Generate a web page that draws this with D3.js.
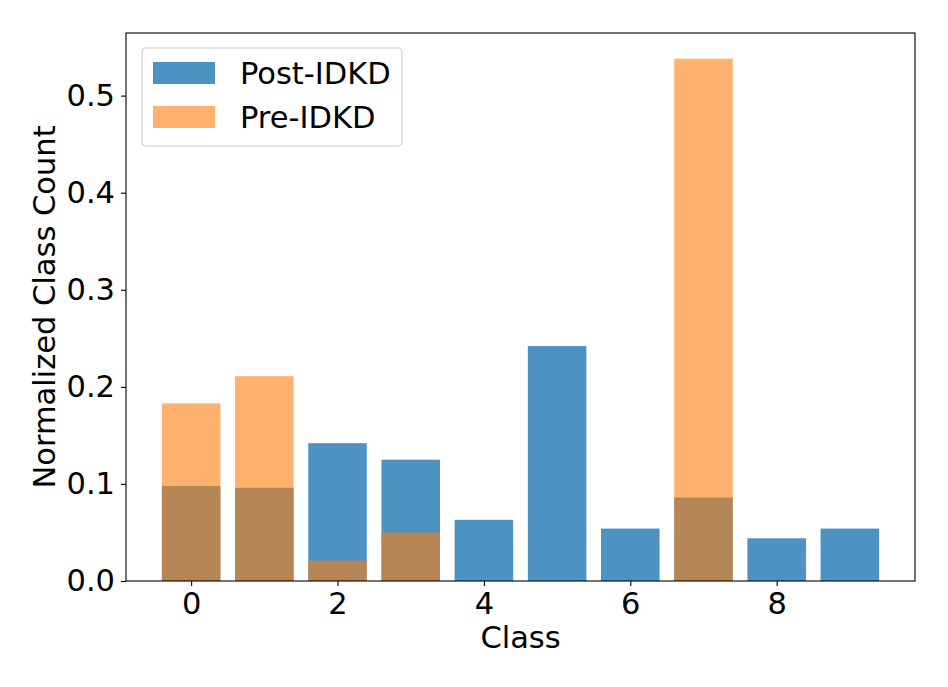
<html>
<script src="https://cdn.jsdelivr.net/npm/d3@7"></script>
<style>
  body { margin: 0; background: #fff; }
  text { font-family: "DejaVu Sans", sans-serif; fill: #000; }
</style>
<body>
<div id="chart"></div>
<script>
// values
var classes = [0, 1, 2, 3, 4, 5, 6, 7, 8, 9];
var postIDKD = [0.098, 0.096, 0.142, 0.125, 0.063, 0.242, 0.054, 0.086, 0.044, 0.054];
var preIDKD  = [0.183, 0.211, 0.021, 0.050, 0, 0, 0, 0.538, 0, 0];
var seriesNames = ["Post-IDKD", "Pre-IDKD"];
var xTicks = [0, 2, 4, 6, 8];
var yTicks = [0.0, 0.1, 0.2, 0.3, 0.4, 0.5];

var W = 948, H = 687;
var margin = { top: 33, right: 33, bottom: 106, left: 126 };
var width = W - margin.left - margin.right,
    height = H - margin.top - margin.bottom;
var fs = "30.5px";

var svg = d3.select("#chart").append("svg")
  .attr("width", W).attr("height", H);

var g = svg.append("g")
  .attr("transform", "translate(" + margin.left + "," + margin.top + ")");

var x = d3.scaleLinear().domain([-0.89, 9.89]).range([0, width]);
var y = d3.scaleLinear().domain([0, 0.5645]).range([height, 0]);

var barW = x(0.8) - x(0);

// Post-IDKD first, Pre-IDKD drawn over it
g.selectAll(".post").data(classes).enter().append("rect")
  .attr("class", "post")
  .attr("x", d => x(d - 0.4))
  .attr("y", (d, i) => y(postIDKD[i]))
  .attr("width", barW)
  .attr("height", (d, i) => y(0) - y(postIDKD[i]))
  .style("fill", "#1f77b4").style("fill-opacity", 0.8);

g.selectAll(".pre").data(classes).enter().append("rect")
  .attr("class", "pre")
  .attr("x", d => x(d - 0.4))
  .attr("y", (d, i) => y(preIDKD[i]))
  .attr("width", barW)
  .attr("height", (d, i) => y(0) - y(preIDKD[i]))
  .style("fill", "#ff7f0e").style("fill-opacity", 0.6);

// frame
g.append("rect")
  .attr("width", width).attr("height", height)
  .style("fill", "none").style("stroke", "#000").style("stroke-width", 1.1);

var xaxis = d3.axisBottom(x).tickValues(xTicks).tickFormat(d3.format("d"))
  .tickSize(5).tickSizeOuter(0).tickPadding(6);
var yaxis = d3.axisLeft(y).tickValues(yTicks).tickFormat(d3.format(".1f"))
  .tickSize(5).tickSizeOuter(0).tickPadding(6);

var gx = g.append("g").attr("transform", "translate(0," + height + ")").call(xaxis);
var gy = g.append("g").call(yaxis);
[gx, gy].forEach(function(a) {
  a.select(".domain").remove();
  a.selectAll("line").style("stroke", "#000").style("stroke-width", 1.1);
  a.selectAll("text").style("font-family", "DejaVu Sans").style("font-size", fs).style("fill", "#000");
});

svg.append("text")
  .attr("x", margin.left + width / 2).attr("y", 648)
  .style("text-anchor", "middle").style("font-size", fs)
  .text("Class");

svg.append("text")
  .attr("transform", "translate(55," + (margin.top + height / 2) + ") rotate(-90)")
  .style("text-anchor", "middle").style("font-size", fs)
  .text("Normalized Class Count");

// legend
var lg = svg.append("g").attr("transform", "translate(142,48)");
lg.append("rect")
  .attr("width", 260).attr("height", 98).attr("rx", 4)
  .style("fill", "#fff").style("fill-opacity", 0.8)
  .style("stroke", "#ccc").style("stroke-width", 1.1);

var legendColors = [["#1f77b4", 0.8], ["#ff7f0e", 0.6]];
lg.selectAll(".sw").data(seriesNames).enter().append("rect")
  .attr("x", 11)
  .attr("y", (d, i) => 14 + i * 44)
  .attr("width", 62).attr("height", 22)
  .style("fill", (d, i) => legendColors[i][0])
  .style("fill-opacity", (d, i) => legendColors[i][1]);

lg.selectAll(".lt").data(seriesNames).enter().append("text")
  .attr("x", 98)
  .attr("y", (d, i) => 25 + i * 44)
  .attr("dy", "0.36em")
  .style("font-size", fs)
  .text(d => d);
</script>
</body>
</html>
